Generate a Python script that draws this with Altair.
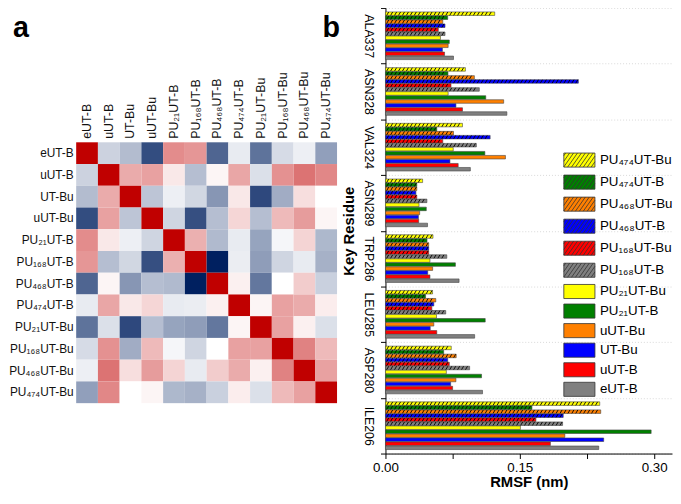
import math
import altair as alt
import pandas as pd

FONT = "Liberation Sans"

# ---------------- panel a : correlation heat map ----------------
hm_labels = ["eUT-B", "uUT-B", "UT-Bu", "uUT-Bu", "PU₂₁UT-B", "PU₁₆₈UT-B",
             "PU₄₆₈UT-B", "PU₄₇₄UT-B", "PU₂₁UT-Bu", "PU₁₆₈UT-Bu", "PU₄₆₈UT-Bu", "PU₄₇₄UT-Bu"]

corr = [
    [1.00, -0.20, -0.30, -0.80, 0.45, 0.41, -0.69, -0.09, -0.63, -0.16, -0.07, -0.43],
    [-0.20, 1.00, 0.33, 0.37, 0.09, -0.29, 0.04, 0.35, -0.14, 0.43, 0.55, 0.47],
    [-0.30, 0.33, 1.00, -0.26, -0.07, -0.18, -0.47, 0.09, -0.82, -0.37, 0.13, 0.00],
    [-0.80, 0.37, -0.26, 1.00, -0.19, -0.79, -0.29, 0.16, -0.29, 0.27, 0.39, 0.04],
    [0.45, 0.09, -0.07, -0.19, 1.00, 0.31, -0.31, -0.09, -0.41, -0.04, 0.17, -0.32],
    [0.41, -0.29, -0.18, -0.79, 0.31, 1.00, -1.00, -0.08, -0.44, -0.19, -0.09, -0.35],
    [-0.69, 0.04, -0.47, -0.29, -0.31, -1.00, 1.00, 0.06, -0.61, 0.00, 0.20, -0.21],
    [-0.09, 0.35, 0.09, 0.16, -0.09, -0.08, 0.06, 1.00, 0.04, 0.37, 0.33, 0.07],
    [-0.63, -0.14, -0.82, -0.29, -0.41, -0.44, -0.61, 0.04, 1.00, 0.37, 0.06, -0.14],
    [-0.16, 0.43, -0.37, 0.27, -0.04, -0.19, 0.00, 0.37, 0.37, 1.00, 0.49, 0.27],
    [-0.07, 0.55, 0.13, 0.39, 0.17, -0.09, 0.20, 0.33, 0.06, 0.49, 1.00, 0.37],
    [-0.43, 0.47, 0.00, 0.04, -0.32, -0.35, -0.21, 0.07, -0.14, 0.27, 0.37, 1.00],
]

# ---------------- panel b : RMSF bars ----------------
residues = ["ALA337", "ASN328", "VAL324", "ASN289", "TRP286", "LEU285", "ASP280", "ILE206"]
series = ["PU₄₇₄UT-Bu", "PU₄₇₄UT-B", "PU₄₆₈UT-Bu", "PU₄₆₈UT-B", "PU₁₆₈UT-Bu", "PU₁₆₈UT-B",
          "PU₂₁UT-Bu", "PU₂₁UT-B", "uUT-Bu", "UT-Bu", "uUT-B", "eUT-B"]
series_colors = ["#ffff00", "#008000", "#ff8000", "#0000ff", "#ff0000", "#808080",
                 "#ffff00", "#008000", "#ff8000", "#0000ff", "#ff0000", "#808080"]
hatched_series = series[:6]
solid_series = series[6:]

rmsf_ALA337 = [0.122, 0.0695, 0.064, 0.0665, 0.059, 0.0665, 0.0614, 0.0713, 0.070, 0.0636, 0.066, 0.076]
rmsf_ASN328 = [0.0893, 0.0698, 0.0993, 0.2154, 0.0732, 0.1048, 0.070, 0.112, 0.132, 0.0787, 0.086, 0.1356]
rmsf_VAL324 = [0.086, 0.0573, 0.076, 0.1169, 0.064, 0.1015, 0.0757, 0.111, 0.134, 0.072, 0.0812, 0.0948]
rmsf_ASN289 = [0.0415, 0.035, 0.035, 0.034, 0.035, 0.0463, 0.0375, 0.0456, 0.0382, 0.0368, 0.0371, 0.047]
rmsf_TRP286 = [0.0531, 0.0464, 0.0483, 0.0483, 0.0483, 0.0685, 0.0497, 0.0781, 0.0527, 0.0472, 0.0497, 0.0822]
rmsf_LEU285 = [0.0526, 0.0448, 0.0562, 0.054, 0.0518, 0.0673, 0.057, 0.1114, 0.054, 0.050, 0.0573, 0.0996]
rmsf_ASP280 = [0.0735, 0.065, 0.079, 0.0695, 0.0713, 0.094, 0.068, 0.1073, 0.0787, 0.0728, 0.075, 0.1084]
rmsf_ILE206 = [0.2393, 0.1636, 0.2404, 0.1985, 0.168, 0.1978, 0.1507, 0.2967, 0.2003, 0.2437, 0.1842, 0.2382]
rmsf = [rmsf_ALA337, rmsf_ASN328, rmsf_VAL324, rmsf_ASN289, rmsf_TRP286, rmsf_LEU285, rmsf_ASP280, rmsf_ILE206]

x_ticks = [0.0, 0.075, 0.15, 0.225, 0.30]

# ---------------- tables ----------------
hm_df = pd.DataFrame([{"row": r, "col": c, "r": corr[i][j]}
                      for i, r in enumerate(hm_labels) for j, c in enumerate(hm_labels)])
bar_df = pd.DataFrame([{"residue": res, "series": s, "value": v}
                       for res, vals in zip(residues, rmsf) for s, v in zip(series, vals)])

# ---------------- legend swatch shapes (unit coords, scale 7.5 px) ----------------
X0, X1, Y0, Y1 = -1.0, 3.2, -0.95, 0.95
SOLID = f"M{X0},{Y0}H{X1}V{Y1}H{X0}Z"


def clip(xa, ya, xb, yb):
    t0, t1 = 0.0, 1.0
    dx, dy = xb - xa, yb - ya
    for p, q in ((-dx, xa - X0), (dx, X1 - xa), (-dy, ya - Y0), (dy, Y1 - ya)):
        if p == 0:
            if q < 0:
                return None
        else:
            t = q / p
            if p < 0:
                t0 = max(t0, t)
            else:
                t1 = min(t1, t)
    if t0 >= t1:
        return None
    return (xa + t0 * dx, ya + t0 * dy, xa + t1 * dx, ya + t1 * dy)


run = (Y1 - Y0) / math.tan(math.radians(55))
segs = []
k = 0
while True:
    xs = X0 - run + 0.25 + k * 0.53
    if xs > X1:
        break
    c = clip(xs, Y1, xs + run, Y0)
    if c:
        segs.append("M%.3f,%.3fL%.3f,%.3f" % c)
    k += 1
HATCH = SOLID + "".join(segs)

VIEW_H = 451

# ---------------- panel a chart ----------------
heat = alt.Chart(hm_df).mark_rect().encode(
    x=alt.X("col:N", sort=hm_labels, scale=alt.Scale(paddingInner=0, paddingOuter=0),
            axis=alt.Axis(orient="top", title=None, labelAngle=-90, offset=-136, domain=False,
                          ticks=False, labelPadding=4, labelFontSize=12.5, labelFont=FONT,
                          labelColor="#111")),
    y=alt.Y("row:N", sort=hm_labels, scale=alt.Scale(paddingInner=0, paddingOuter=0, range=[136, 400]),
            axis=alt.Axis(title=None, domain=False, ticks=False, labelPadding=3, labelFontSize=12,
                          labelFont=FONT, labelColor="#111")),
    color=alt.Color("r:Q", scale=alt.Scale(domain=[-1, 0, 1], range=["#002060", "#ffffff", "#c00000"],
                                           interpolate="rgb"), legend=None),
)
a_txt = alt.Chart(pd.DataFrame({"t": ["a"]})).mark_text(
    font=FONT, fontSize=29, fontWeight="bold", align="left", baseline="alphabetic", color="black"
).encode(text="t:N", x=alt.value(-64), y=alt.value(29.3))
panel_a = alt.layer(heat, a_txt).properties(width=264, height=VIEW_H)

# ---------------- panel b chart ----------------
x_axis = alt.Axis(title="RMSF (nm)", values=x_ticks, grid=False, tickSize=5, labelFlush=False,
                  labelExpr="(round(datum.value*1000) % 150 == 0) ? format(datum.value, '.2f') : ''",
                  labelFontSize=13.5, labelFont=FONT, labelPadding=2, titleFont=FONT,
                  titleFontSize=15, titleFontWeight="bold", titlePadding=1)
x_scale = alt.Scale(domain=[0, 0.32], nice=False, zero=True)
y_enc = alt.Y("residue:N", sort=residues, scale=alt.Scale(paddingInner=0, paddingOuter=0),
              axis=alt.Axis(title="Key Residue", labelAngle=90, labelAlign="center", labelBaseline="top",
                            tickBand="extent", grid=True, gridDash=[1, 2], gridColor="#cfcfcf",
                            gridWidth=0.8, tickSize=5, labelPadding=6, labelFontSize=12.5, labelFont=FONT,
                            titleFont=FONT, titleFontSize=15, titleFontWeight="bold", titlePadding=6))
yoff_enc = alt.YOffset("series:N", sort=series,
                       scale=alt.Scale(domain=series, paddingInner=0.12, paddingOuter=1))


def legend(symbol, y, row_pad):
    return alt.Legend(title=None, orient="none", legendX=180, legendY=y, padding=0,
                      labelFont=FONT, labelFontSize=13.5, labelColor="black",
                      symbolSize=225, symbolType=symbol, symbolStrokeColor="#333333",
                      symbolStrokeWidth=0.8, rowPadding=row_pad, labelOffset=21)


bars_h = alt.Chart(bar_df).transform_filter(
    alt.FieldOneOfPredicate(field="series", oneOf=hatched_series)
).mark_bar(stroke="#444444", strokeWidth=0.6, opacity=1).encode(
    x=alt.X("value:Q", scale=x_scale, axis=x_axis),
    y=y_enc,
    yOffset=yoff_enc,
    fill=alt.Fill("series:N", sort=hatched_series,
                  scale=alt.Scale(domain=hatched_series, range=series_colors[:6]),
                  legend=legend(HATCH, 146, 4.3)),
)

bars_s = alt.Chart(bar_df).transform_filter(
    alt.FieldOneOfPredicate(field="series", oneOf=solid_series)
).mark_bar(stroke="#444444", strokeWidth=0.6, opacity=1).encode(
    x=alt.X("value:Q", scale=x_scale, axis=x_axis),
    y=y_enc,
    yOffset=yoff_enc,
    fill=alt.Fill("series:N", sort=solid_series,
                  scale=alt.Scale(domain=solid_series, range=series_colors[6:]),
                  legend=legend(SOLID, 279, 1.8)),
)

hatch = alt.Chart(bar_df).transform_filter(
    alt.FieldOneOfPredicate(field="series", oneOf=hatched_series)
).transform_calculate(
    h="sequence(0.0025, datum.value - 0.0015, 0.0044)"
).transform_flatten(["h"]).mark_point(
    shape="M-0.6,1L0.6,-1", filled=False, stroke="black", strokeWidth=0.9, size=12, opacity=1
).encode(
    x=alt.X("h:Q", scale=x_scale, axis=x_axis),
    y=y_enc,
    yOffset=yoff_enc,
)

b_txt = alt.Chart(pd.DataFrame({"t": ["b"]})).mark_text(
    font=FONT, fontSize=29, fontWeight="bold", align="left", baseline="alphabetic", color="black"
).encode(text="t:N", x=alt.value(-63.7), y=alt.value(29.3))

panel_b = alt.layer(bars_h, bars_s, hatch, b_txt).resolve_scale(fill="independent").properties(
    width=290, height=VIEW_H)

chart = alt.hconcat(panel_a, panel_b, spacing=-15).properties(
    padding={"left": 0, "top": -4, "right": 0, "bottom": -1}
).configure_view(stroke=None).configure_axis(
    domainColor="black", tickColor="black", labelColor="black", titleColor="black"
)

chart.save("out.html", embed_options={"renderer": "svg", "actions": False})
